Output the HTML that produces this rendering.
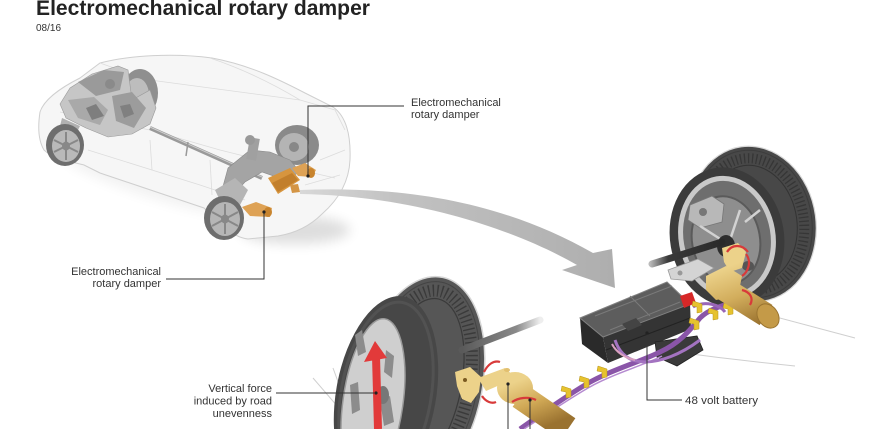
<!DOCTYPE html>
<html><head><meta charset="utf-8">
<style>
html,body{margin:0;padding:0;background:#fff;width:885px;height:429px;overflow:hidden}
svg{display:block;overflow:hidden}
text{font-family:"Liberation Sans",sans-serif}
</style></head><body>
<svg width="885" height="429" viewBox="0 0 885 429" xmlns="http://www.w3.org/2000/svg">
<defs>
<clipPath id="frame"><rect x="0" y="0" width="885" height="429"/></clipPath>
<linearGradient id="arrowG" x1="300" y1="0" x2="615" y2="0" gradientUnits="userSpaceOnUse">
<stop offset="0" stop-color="#d8d8d8"/><stop offset="0.3" stop-color="#c2c2c2"/><stop offset="1" stop-color="#aeaeae"/>
</linearGradient>
<linearGradient id="goldR" x1="718" y1="270" x2="740" y2="330" gradientUnits="userSpaceOnUse">
<stop offset="0" stop-color="#ecd28a"/><stop offset="0.5" stop-color="#d2ad5c"/><stop offset="1" stop-color="#9c7430"/>
</linearGradient>
<linearGradient id="goldL" x1="520" y1="380" x2="540" y2="429" gradientUnits="userSpaceOnUse">
<stop offset="0" stop-color="#ecd28a"/><stop offset="0.5" stop-color="#d0a855"/><stop offset="1" stop-color="#9a7230"/>
</linearGradient>
<linearGradient id="shaftL" x1="462" y1="0" x2="540" y2="0" gradientUnits="userSpaceOnUse">
<stop offset="0" stop-color="#5a5a5a"/><stop offset="0.7" stop-color="#8a8a8a"/><stop offset="1" stop-color="#eeeeee"/>
</linearGradient>
<linearGradient id="shaftR" x1="650" y1="0" x2="722" y2="0" gradientUnits="userSpaceOnUse">
<stop offset="0" stop-color="#bbbbbb"/><stop offset="0.25" stop-color="#3a3a3a"/><stop offset="1" stop-color="#2a2a2a"/>
</linearGradient>
<filter id="blur" x="-50%" y="-50%" width="200%" height="200%"><feGaussianBlur stdDeviation="6"/></filter>
</defs>
<g clip-path="url(#frame)">

<!-- Title -->
<text x="36" y="15" font-size="21" font-weight="bold" fill="#232323" textLength="334" lengthAdjust="spacingAndGlyphs">Electromechanical rotary damper</text>
<text x="36" y="31" font-size="10" fill="#333">08/16</text>

<!-- car shadow -->
<ellipse cx="295" cy="230" rx="55" ry="14" fill="#000" opacity="0.13" filter="url(#blur)"/>
<ellipse cx="150" cy="185" rx="90" ry="12" fill="#000" opacity="0.05" filter="url(#blur)" transform="rotate(18 150 185)"/>

<!-- Car body -->
<path d="M40,112 C44,100 60,88 80,78 L100,63 C130,55 175,53 212,58 C250,65 280,80 305,93 L333,107 C346,116 351,135 350,160 C349,182 338,200 322,214 C310,226 296,233 278,236 L248,239 C238,238 230,232 224,226 L204,208 L100,173 L84,165 C72,162 52,158 44,150 C38,140 38,125 40,112 Z" fill="#f6f6f6" stroke="#cfcfcf" stroke-width="1"/>
<g fill="none" stroke="#dcdcdc" stroke-width="0.8">
<path d="M100,63 C120,70 135,76 150,80 L300,100"/>
<path d="M210,58 C240,68 270,82 300,100"/>
<path d="M60,112 L150,130 L220,150 L300,170 L335,178"/>
<path d="M88,150 L200,185 L245,200"/>
<path d="M300,100 L335,110 L345,130"/>
<path d="M305,185 L340,175"/>
<path d="M150,140 L152,170"/>
<path d="M210,160 L212,195"/>
<path d="M320,160 L345,150"/>
</g>

<!-- front-right wheel (behind) -->
<ellipse cx="140" cy="93" rx="18" ry="24" fill="#8f8f8f"/>
<ellipse cx="137" cy="95" rx="12" ry="17" fill="#bdbdbd"/>
<!-- engine -->
<path d="M60,104 L70,88 L92,74 L118,66 L128,70 L132,100 L150,90 L156,108 L150,124 L132,134 L108,137 L86,128 L66,118 Z" fill="#c6c6c6" stroke="#9a9a9a" stroke-width="0.6"/>
<path d="M78,82 L104,70 L124,72 L120,90 L96,96 Z" fill="#9a9a9a"/>
<path d="M68,100 L94,97 L108,110 L100,125 L78,118 Z" fill="#a9a9a9"/>
<path d="M112,96 L132,92 L146,108 L134,128 L116,121 Z" fill="#9c9c9c"/>
<path d="M86,108 L96,104 L104,116 L92,120 Z" fill="#7e7e7e"/>
<path d="M120,106 L130,104 L134,114 L124,118 Z" fill="#808080"/>
<circle cx="110" cy="84" r="5" fill="#8a8a8a"/>
<path d="M62,118 L80,126 L76,134 L60,126 Z" fill="#b0b0b0"/>
<!-- driveshaft -->
<line x1="150" y1="128" x2="262" y2="178" stroke="#9a9a9a" stroke-width="4"/>
<line x1="150" y1="127" x2="262" y2="177" stroke="#cfcfcf" stroke-width="1"/>
<line x1="188" y1="142" x2="186" y2="156" stroke="#999" stroke-width="1.5"/>

<!-- rear-right wheel (behind) -->
<ellipse cx="297" cy="145" rx="22" ry="20" fill="#8a8a8a"/>
<ellipse cx="294" cy="147" rx="15" ry="14" fill="#b4b4b4"/>
<ellipse cx="294" cy="147" rx="5" ry="5" fill="#888"/>
<!-- rear suspension -->
<path d="M228,168 L250,150 L270,152 L290,160 L300,172 L285,180 L262,172 L245,182 L232,196 L222,190 Z" fill="#a4a4a4" stroke="#8a8a8a" stroke-width="0.6"/>
<rect x="248" y="138" width="10" height="22" fill="#a0a0a0" transform="rotate(10 253 149)"/>
<circle cx="250" cy="140" r="5" fill="#999"/>
<path d="M215,190 L235,178 L248,190 L240,205 L222,205 Z" fill="#b5b5b5"/>
<!-- orange parts -->
<path d="M268,178 L290,168 L300,180 L278,194 Z" fill="#d7953e"/>
<path d="M272,183 L292,173 L298,180 L278,192 Z" fill="#c27f2c"/>
<path d="M292,168 L305,163 L316,170 L312,177 L298,176 Z" fill="#dea255"/>
<ellipse cx="311" cy="173" rx="4" ry="5" fill="#c8842e"/>
<path d="M242,207 L256,202 L272,208 L270,217 L250,216 Z" fill="#dea255"/>
<ellipse cx="268" cy="212" rx="4" ry="5" fill="#c8842e"/>
<path d="M290,185 L298,184 L300,192 L292,193 Z" fill="#d49545"/>

<!-- front-left wheel -->
<ellipse cx="65" cy="145" rx="19" ry="21" fill="#6e6e6e"/>
<ellipse cx="66" cy="146" rx="14" ry="16" fill="#b9b9b9"/>
<g stroke="#888" stroke-width="2"><line x1="66" y1="132" x2="66" y2="160"/><line x1="54" y1="140" x2="78" y2="152"/><line x1="54" y1="152" x2="78" y2="140"/></g>
<ellipse cx="66" cy="146" rx="4" ry="4.5" fill="#888"/>
<!-- rear-left wheel -->
<ellipse cx="224" cy="218" rx="20" ry="22" fill="#6e6e6e"/>
<ellipse cx="225" cy="219" rx="15" ry="17" fill="#b6b6b6"/>
<g stroke="#888" stroke-width="2"><line x1="225" y1="204" x2="225" y2="234"/><line x1="212" y1="212" x2="238" y2="226"/><line x1="212" y1="226" x2="238" y2="212"/></g>
<ellipse cx="225" cy="219" rx="4" ry="4.5" fill="#888"/>

<!-- big arrow -->
<path d="M300,190 C400,186 500,200 593,253 L612,249 L615,288 L562,270 L577,265 C530,238 430,196 300,194 Z" fill="url(#arrowG)"/>

<!-- thin road lines -->
<g fill="none" stroke="#cfcfcf" stroke-width="1">
<path d="M712,300 Q780,318 855,338"/>
<path d="M676,352 Q735,360 795,366"/>
<path d="M313,378 L357,429"/>
<path d="M333,368 Q345,400 352,429"/>
</g>

<!-- right wheel -->
<ellipse cx="752" cy="224" rx="64" ry="78" transform="rotate(-8 752 224)" fill="#484848" stroke="#d8d8d8" stroke-width="1.2"/>
<ellipse cx="752" cy="224" rx="52" ry="66" transform="rotate(-8 752 224)" fill="none" stroke="#363636" stroke-width="10" stroke-dasharray="1.3 2.7"/>
<ellipse cx="752" cy="224" rx="60" ry="74" transform="rotate(-8 752 224)" fill="none" stroke="#3c3c3c" stroke-width="1"/>
<ellipse cx="752" cy="224" rx="45" ry="59" transform="rotate(-8 752 224)" fill="none" stroke="#333" stroke-width="1"/>
<ellipse cx="727" cy="237" rx="57" ry="70" transform="rotate(-10 727 237)" fill="#3b3b3b"/>
<ellipse cx="727" cy="237" rx="46" ry="59" transform="rotate(-10 727 237)" fill="#6e6e6e" stroke="#c9c9c9" stroke-width="5"/>
<ellipse cx="726" cy="240" rx="34" ry="44" transform="rotate(-10 726 240)" fill="#8e8e8e" stroke="#5a5a5a" stroke-width="2"/>
<path d="M690,205 L712,196 L724,204 L722,222 L700,228 L688,220 Z" fill="#b8b8b8" stroke="#777" stroke-width="0.8"/>
<circle cx="703" cy="212" r="4" fill="#777"/>
<g stroke="#d2d2d2" stroke-width="2.5" fill="none"><line x1="700" y1="226" x2="728" y2="244"/><line x1="740" y1="210" x2="730" y2="240"/><line x1="745" y1="222" x2="760" y2="210"/></g>
<ellipse cx="726" cy="246" rx="9" ry="11" fill="#2e2e2e"/>
<ellipse cx="748" cy="266" rx="6" ry="5" fill="#555"/>
<!-- right shaft -->
<line x1="652" y1="264" x2="722" y2="242" stroke="url(#shaftR)" stroke-width="7" stroke-linecap="round"/>
<path d="M668,270 L698,259 L714,268 L692,281 L671,279 Z" fill="#d4d4d4" stroke="#999" stroke-width="0.8"/>
<circle cx="680" cy="273" r="2.5" fill="#999"/>

<!-- battery -->
<path d="M580,318 L603,337 L608,363 L582,344 Z" fill="#2a2a2a"/>
<path d="M603,337 L690,304 L691,329 L608,363 Z" fill="#343434"/>
<path d="M580,318 L667,282 L690,304 L603,337 Z" fill="#5d5d5d" stroke="#808080" stroke-width="1"/>
<g stroke="#7a7a7a" stroke-width="1" fill="none">
<path d="M595,316 L672,286"/><path d="M610,330 L680,302"/><path d="M630,296 L650,316"/>
</g>
<path d="M622,324 L636,318 L642,325 L628,331 Z" fill="#444"/>
<line x1="606" y1="350" x2="690" y2="318" stroke="#222" stroke-width="1"/>
<path d="M680,296 L692,292 L696,303 L684,308 Z" fill="#d62828"/>
<path d="M655,342 L697,336 L703,350 L677,366 L657,357 Z" fill="#3a3a3a" stroke="#222" stroke-width="0.8"/>

<!-- cables -->
<path d="M520,429 C540,415 560,400 585,385 C610,370 640,362 660,352 C680,343 690,330 700,318 C710,308 725,305 742,300" fill="none" stroke="#8a55a8" stroke-width="5"/>
<path d="M524,429 C544,416 564,402 588,388 C612,374 642,366 662,356" fill="none" stroke="#b58ad0" stroke-width="1.5"/>
<path d="M615,340 C620,355 630,362 645,362 C660,362 680,355 700,340" fill="none" stroke="#a373c0" stroke-width="3"/>
<path d="M693,307 C705,300 720,305 725,312" fill="none" stroke="#9a66b8" stroke-width="3"/>
<path d="M612,344 C616,352 625,358 635,360" fill="none" stroke="#d9a0c0" stroke-width="2"/>
<g fill="#e6c22e" stroke="#b8961e" stroke-width="0.5">
<path d="M562,386 L571,389 L571,397 L566,398 L566,392 L561,391 Z"/>
<path d="M580,376 L589,379 L589,387 L584,388 L584,382 L579,381 Z"/>
<path d="M598,366 L607,369 L607,377 L602,378 L602,372 L597,371 Z"/>
<path d="M690,318 L699,321 L699,329 L694,330 L694,324 L689,323 Z"/>
<path d="M693,301 L702,304 L702,312 L697,313 L697,307 L692,306 Z"/>
<path d="M709,308 L718,311 L718,319 L713,320 L713,314 L708,313 Z"/>
<path d="M724,303 L733,306 L733,314 L728,315 L728,309 L723,308 Z"/>
<path d="M545,401 L554,404 L554,412 L549,413 L549,407 L544,406 Z"/>
</g>

<!-- right damper -->
<path d="M722,248 L738,243 L746,252 L742,268 L730,272 L724,262 Z" fill="url(#goldR)"/>
<path d="M706,276 L726,266 L742,276 L738,296 L716,300 L706,290 Z" fill="url(#goldR)"/>
<line x1="718" y1="285" x2="766" y2="315" stroke="url(#goldR)" stroke-width="24"/>
<ellipse cx="768" cy="316" rx="10" ry="13" transform="rotate(-35 768 316)" fill="#c49a48" stroke="#9a7430" stroke-width="1"/>
<g fill="none" stroke="#d83a3a" stroke-width="2.2">
<path d="M727,252 C732,244 742,244 748,252"/>
<path d="M746,254 C752,262 748,272 742,276"/>
<path d="M742,290 C750,292 754,298 750,305"/>
</g>

<!-- left wheel -->
<ellipse cx="420" cy="385" rx="62" ry="110" transform="rotate(12 420 385)" fill="#565656" stroke="#d6d6d6" stroke-width="1.5"/>
<ellipse cx="420" cy="385" rx="49" ry="96" transform="rotate(12 420 385)" fill="none" stroke="#3a3a3a" stroke-width="12" stroke-dasharray="1.4 3"/>
<ellipse cx="420" cy="385" rx="57" ry="105" transform="rotate(12 420 385)" fill="none" stroke="#444" stroke-width="1"/>
<ellipse cx="420" cy="385" rx="41" ry="88" transform="rotate(12 420 385)" fill="none" stroke="#3a3a3a" stroke-width="1.2"/>
<ellipse cx="386" cy="395" rx="50" ry="100" transform="rotate(10 386 395)" fill="#474747"/>
<ellipse cx="386" cy="395" rx="45" ry="94" transform="rotate(10 386 395)" fill="none" stroke="#525252" stroke-width="3"/>
<ellipse cx="373" cy="402" rx="30" ry="84" transform="rotate(8 373 402)" fill="#cfcfcf" stroke="#9a9a9a" stroke-width="1.5"/>
<g fill="#8c8c8c">
<path d="M355,335 L362,330 L366,352 L358,356 Z"/>
<path d="M386,350 L394,356 L392,378 L384,372 Z"/>
<path d="M350,385 L358,382 L360,410 L352,414 Z"/>
<path d="M380,400 L390,396 L394,422 L384,426 Z"/>
</g>
<ellipse cx="383" cy="395" rx="6" ry="9" fill="#777"/>
<!-- left axle -->
<line x1="462" y1="350" x2="540" y2="320" stroke="url(#shaftL)" stroke-width="7" stroke-linecap="round"/>
<!-- red force arrow -->
<line x1="376" y1="356" x2="378" y2="429" stroke="#e23a3a" stroke-width="8"/>
<path d="M364,362 L375,341 L387,358 Z" fill="#e23a3a"/>
<circle cx="376" cy="393" r="1.6" fill="#222"/>

<!-- left damper -->
<path d="M455,372 L470,367 L481,377 L479,392 L471,403 L462,399 L457,386 Z" fill="url(#goldL)"/>
<circle cx="465" cy="380" r="2" fill="#7a5a20"/>
<path d="M478,378 L505,368 L516,378 L486,391 Z" fill="url(#goldL)"/>
<ellipse cx="515" cy="388" rx="18" ry="16" fill="url(#goldL)"/>
<line x1="520" y1="396" x2="568" y2="429" stroke="url(#goldL)" stroke-width="26"/>
<ellipse cx="507" cy="370" rx="3" ry="2" fill="#e2c070"/>
<g fill="none" stroke="#d83a3a" stroke-width="2.2">
<path d="M484,372 C488,364 494,360 500,362"/>
<path d="M482,396 C486,402 492,404 496,402"/>
<path d="M512,402 C518,398 528,396 536,400"/>
</g>

<!-- leader lines -->
<g stroke="#333" stroke-width="1" fill="none">
<polyline points="308,176 308,106 404,106"/>
<polyline points="264,212 264,279 166,279"/>
<line x1="276" y1="393" x2="374" y2="393"/>
<polyline points="647,333 647,400 682,400"/>
<line x1="508" y1="384" x2="508" y2="429"/>
<line x1="530" y1="400" x2="530" y2="429"/>
</g>
<g fill="#222">
<circle cx="308" cy="176" r="1.6"/><circle cx="264" cy="212" r="1.6"/>
<circle cx="647" cy="333" r="1.6"/><circle cx="508" cy="384" r="1.6"/><circle cx="530" cy="400" r="1.6"/>
</g>

<!-- labels -->
<g font-size="11" fill="#333">
<text x="411" y="106">Electromechanical</text>
<text x="411" y="118">rotary damper</text>
<text x="161" y="275" text-anchor="end">Electromechanical</text>
<text x="161" y="287" text-anchor="end">rotary damper</text>
<text x="272" y="392" text-anchor="end">Vertical force</text>
<text x="272" y="404.5" text-anchor="end">induced by road</text>
<text x="272" y="417" text-anchor="end">unevenness</text>
<text x="685" y="404" textLength="73" lengthAdjust="spacingAndGlyphs">48 volt battery</text>
</g>
</g>
</svg>
</body></html>
